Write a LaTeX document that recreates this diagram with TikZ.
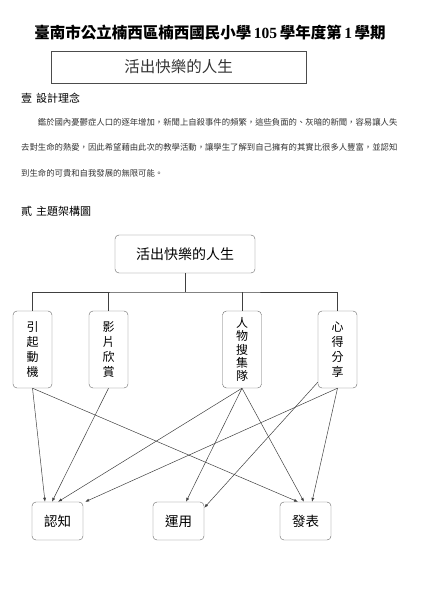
\documentclass[tikz,border=0pt]{standalone}
\usepackage{fontspec}
\setmainfont{Noto Sans CJK TC}
\newfontfamily\tnr{Liberation Serif}
\usetikzlibrary{arrows.meta}

\tikzset{
    box/.style={draw=black!60, rounded corners=4pt, inner sep=0pt},
    vbox/.style={box, minimum width=39pt, minimum height=77pt, align=center,
        font=\fontsize{12}{15}\selectfont},
    goalbox/.style={box, minimum width=51pt, minimum height=38pt,
        font=\fontsize{13.5}{16}\selectfont},
    link/.style={draw=black!75, line width=0.5pt},
    flow/.style={link, -{Latex[length=4pt,width=3pt]}},
    para/.style={anchor=west, inner sep=0pt, font=\fontsize{8.36}{10}\selectfont, text=black!80}
}

\begin{document}
\begin{tikzpicture}[x=1pt, y=-1pt]
        \useasboundingbox (0,0) rectangle (420,593);
        \node[font=\fontsize{15.5}{18}\selectfont\bfseries] (title) at (210,33)
            {臺南市公立楠西區楠西國民小學\,{\tnr\bfseries 105}\,學年度第\,{\tnr\bfseries 1}\,學期};
        \node[draw=black!70, minimum width=255pt, minimum height=32pt, inner sep=0pt,
            font=\fontsize{15.5}{18}\selectfont\color{black!80}] (name) at (178.5,67) {活出快樂的人生};
        \node[anchor=west, inner sep=0pt, font=\fontsize{11}{13}\selectfont] (part1) at (21,98)
            {壹\hspace{4pt}設計理念};
        \node[para] (line1) at (37.7,122.5)
            {鑑於國內憂鬱症人口的逐年增加，新聞上自殺事件的頻繁，這些負面的、灰暗的新聞，容易讓人失};
        \node[para] (line2) at (21,147.5)
            {去對生命的熱愛，因此希望藉由此次的教學活動，讓學生了解到自己擁有的其實比很多人豐富，並認知};
        \node[para] (line3) at (21,173.5)
            {到生命的可貴和自我發展的無限可能。};
        \node[anchor=west, inner sep=0pt, font=\fontsize{11}{13}\selectfont] (part2) at (21,211)
            {貳\hspace{4pt}主題架構圖};

        \node[box, minimum width=140pt, minimum height=38pt, font=\fontsize{14}{16}\selectfont]
            (root) at (185,254) {活出快樂的人生};
        \node[vbox] (motive) at (32.5,349.5) {引\\起\\動\\機};
        \node[vbox] (film) at (108.5,349.5) {影\\片\\欣\\賞};
        \node[vbox, font=\fontsize{12}{13.4}\selectfont] (people) at (242,349.5) {人\\物\\搜\\集\\隊};
        \node[vbox] (share) at (337.5,349.5) {心\\得\\分\\享};
        \node[goalbox] (know) at (57.5,521) {認知};
        \node[goalbox] (use) at (178.5,521) {運用};
        \node[goalbox] (show) at (305.5,521) {發表};

        \coordinate (bus) at (185,292);
        \draw[link] (root.south) -- (bus);
        \draw[link] (motive.north) |- (bus) -| (share.north);
        \draw[link] (film.north) -- (film.north |- bus);
        \draw[link] (people.north) -- (people.north |- bus);

        \draw[flow] (motive.south) -- ([xshift=-12.5pt]know.north);
        \draw[flow] (motive.south) -- ([xshift=-7.5pt]show.north);
        \draw[flow] (film.south) -- ([xshift=-5.5pt]know.north);
        \draw[flow] (people.south) -- ([xshift=0.5pt]know.north);
        \draw[flow] (people.south) -- ([xshift=7.5pt]use.north);
        \draw[flow] (people.south) -- ([xshift=-1.5pt]show.north);
        \draw[flow] (share.south) -- ([xshift=2pt]know.north east);
        \draw[flow] ([yshift=6pt]share.south west) -- ([yshift=-6pt]use.north east);
        \draw[flow] (share.south) -- ([xshift=6.5pt]show.north);
    \end{tikzpicture}
\end{document}
